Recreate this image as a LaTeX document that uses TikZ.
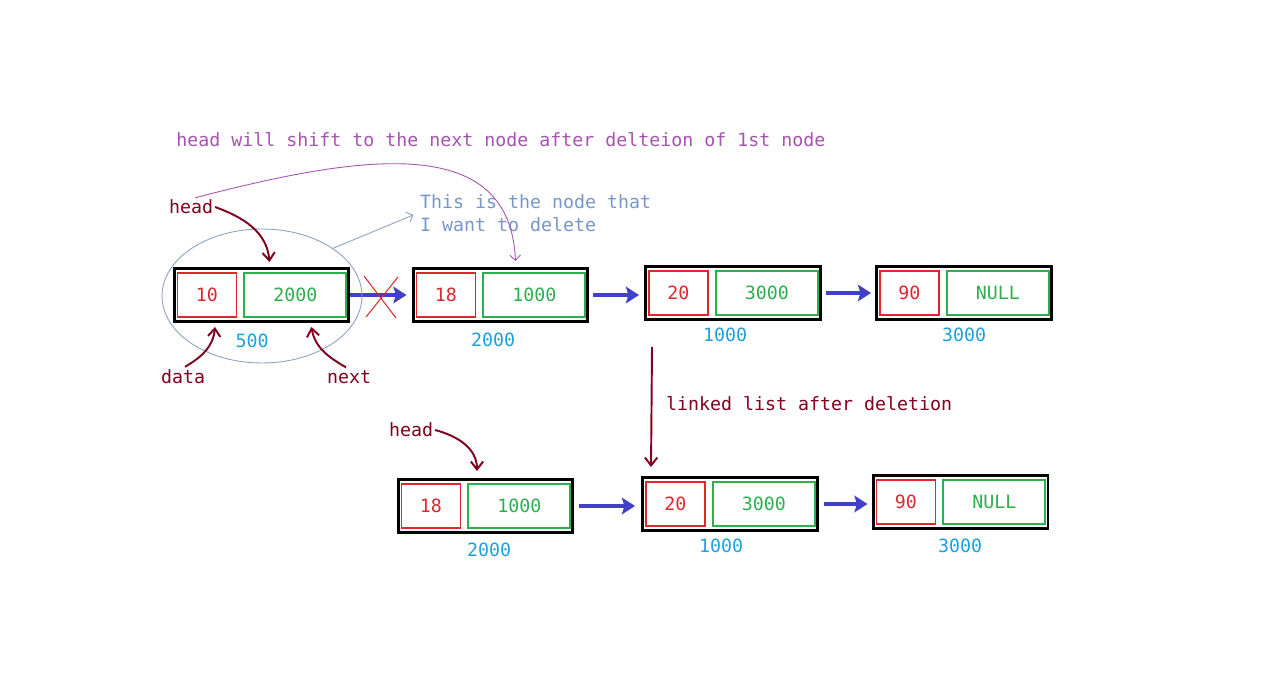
\documentclass[tikz,border=0pt]{standalone}
\usepackage{fontspec}
\setmonofont{DejaVu Sans Mono}
\usetikzlibrary{arrows.meta, positioning, calc, shapes.geometric}
\definecolor{darkred}{HTML}{80001E}
\definecolor{cellred}{HTML}{E0262F}
\definecolor{cellgreen}{HTML}{2DAF4E}
\definecolor{addrblue}{HTML}{1EA0DC}
\definecolor{linkblue}{HTML}{4040C8}
\definecolor{notegray}{HTML}{7896C8}
\definecolor{ringgray}{HTML}{8CA2C2}
\definecolor{shiftpurple}{HTML}{A654B0}

\tikzset{
  txt/.style={font=\fontsize{10.4}{13}\selectfont\ttfamily, inner sep=1pt},
  listnode/.style={draw=black, line width=1.7pt, minimum width=3.5cm, minimum height=1.06cm, inner sep=0pt},
  datacell/.style={txt, draw=cellred, text=cellred, line width=1.1pt, minimum width=1.18cm, minimum height=0.88cm},
  nextcell/.style={txt, draw=cellgreen, text=cellgreen, line width=1.1pt, minimum width=2.04cm, minimum height=0.88cm},
  addr/.style={txt, text=addrblue},
  lbl/.style={txt, text=darkred},
  link/.style={draw=linkblue, line width=2.3pt, -{Stealth[length=7.5pt, width=9.5pt, inset=1.5pt]}},
  pointer/.style={draw=darkred, line width=1.1pt, -{Straight Barb[length=4.5pt, width=7pt]}},
  cross/.style={draw=cellred, line width=0.6pt}
}

\begin{document}
\begin{tikzpicture}[x=0.02cm, y=-0.02cm]
  \useasboundingbox[fill=white] (0,0) rectangle (1280,685);

  % list nodes: name / centre / data / next / address and its place
  \foreach \id/\cx/\cy/\val/\ptr/\adr/\ax/\ay in {
      t1/261.5/295/10/2000/500/252/341,
      t2/500.5/295/18/1000/2000/493/340,
      t3/733/293/20/3000/1000/725/335,
      t4/964/293/90/NULL/3000/964/335,
      b1/485.5/506/18/1000/2000/489/550,
      b2/730/504/20/3000/1000/721/546,
      b3/960.5/502/90/NULL/3000/960/546} {
    \node[listnode] (\id) at (\cx,\cy) {};
    \node[datacell, anchor=west] (\id-d) at ($(\id.west)+(4,0)$) {\val};
    \node[nextcell, right=0.12cm of \id-d] (\id-n) {\ptr};
    \node[addr] (\id-a) at (\ax,\ay) {\adr};
  }

  % links between the nodes
  \draw[link, shorten >=0.1cm] (t1) -- (t1 -| t2.west);
  \draw[link, shorten <=0.08cm, shorten >=0.1cm] (t2) -- (t2 -| t3.west);
  \draw[link, shorten <=0.08cm, shorten >=0.08cm] (t3) -- (t3 -| t4.west);
  \draw[link, shorten <=0.1cm, shorten >=0.12cm] (b1) -- (b1 -| b2.west);
  \draw[link, shorten <=0.1cm, shorten >=0.08cm] (b2) -- (b2 -| b3.west);

  % the cut link
  \coordinate (cut) at ($(t1.east)!0.5!(t2.west)$);
  \draw[cross] ($(cut)+(-17,-19)$) -- ($(cut)+(15,23)$);
  \draw[cross] ($(cut)+(17,-18)$) -- ($(cut)+(-15,22)$);

  % node to delete
  \node[ellipse, draw=ringgray, line width=0.5pt, minimum width=4cm, minimum height=2.68cm] (sel) at (262,296) {};
  \node[txt, text=notegray, anchor=west, align=left] (note) at (418,213) {This is the node that\\I want to delete};
  \draw[draw=ringgray, line width=0.5pt, -{Straight Barb[length=3pt, width=6pt]}, shorten >=0.1cm] (sel.north east) -- (note.west);

  % labels round the first node
  \node[lbl] (h1) at (191,207) {head};
  \node[lbl] (d1) at (183,377) {data};
  \node[lbl] (n1) at (349,377) {next};
  \draw[pointer] (h1.east) to[out=-20, in=95] ($(t1.north)+(8,-5)$);
  \draw[pointer] ($(d1.north)+(2,-1)$) to[out=30, in=-95] ($(t1-d.south)+(8,9)$);
  \draw[pointer] ($(n1.north)+(-3,-1)$) to[out=150, in=-80] ($(t1-n.south)+(16,9)$);

  % head moves on
  \node[txt, text=shiftpurple] (shift) at (501,140) {head will shift to the next node after delteion of 1st node};
  \draw[draw=shiftpurple, line width=0.5pt, -{Straight Barb[length=3pt, width=6pt]}] ($(h1.north)+(4,0)$) .. controls (370,152) and (510,135) .. ($(t2.north)+(15,-6)$);

  % list after deletion
  \coordinate (drop) at (652,347);
  \draw[pointer] (drop) -- ($(b2.north west)+(10,-9)$);
  \node[lbl, anchor=west] (after) at (664,404) {linked list after deletion};
  \node[lbl] (h2) at (411,430) {head};
  \draw[pointer] (h2.east) to[out=-15, in=90] ($(b1.north)+(-8.5,-7)$);
\end{tikzpicture}
\end{document}
